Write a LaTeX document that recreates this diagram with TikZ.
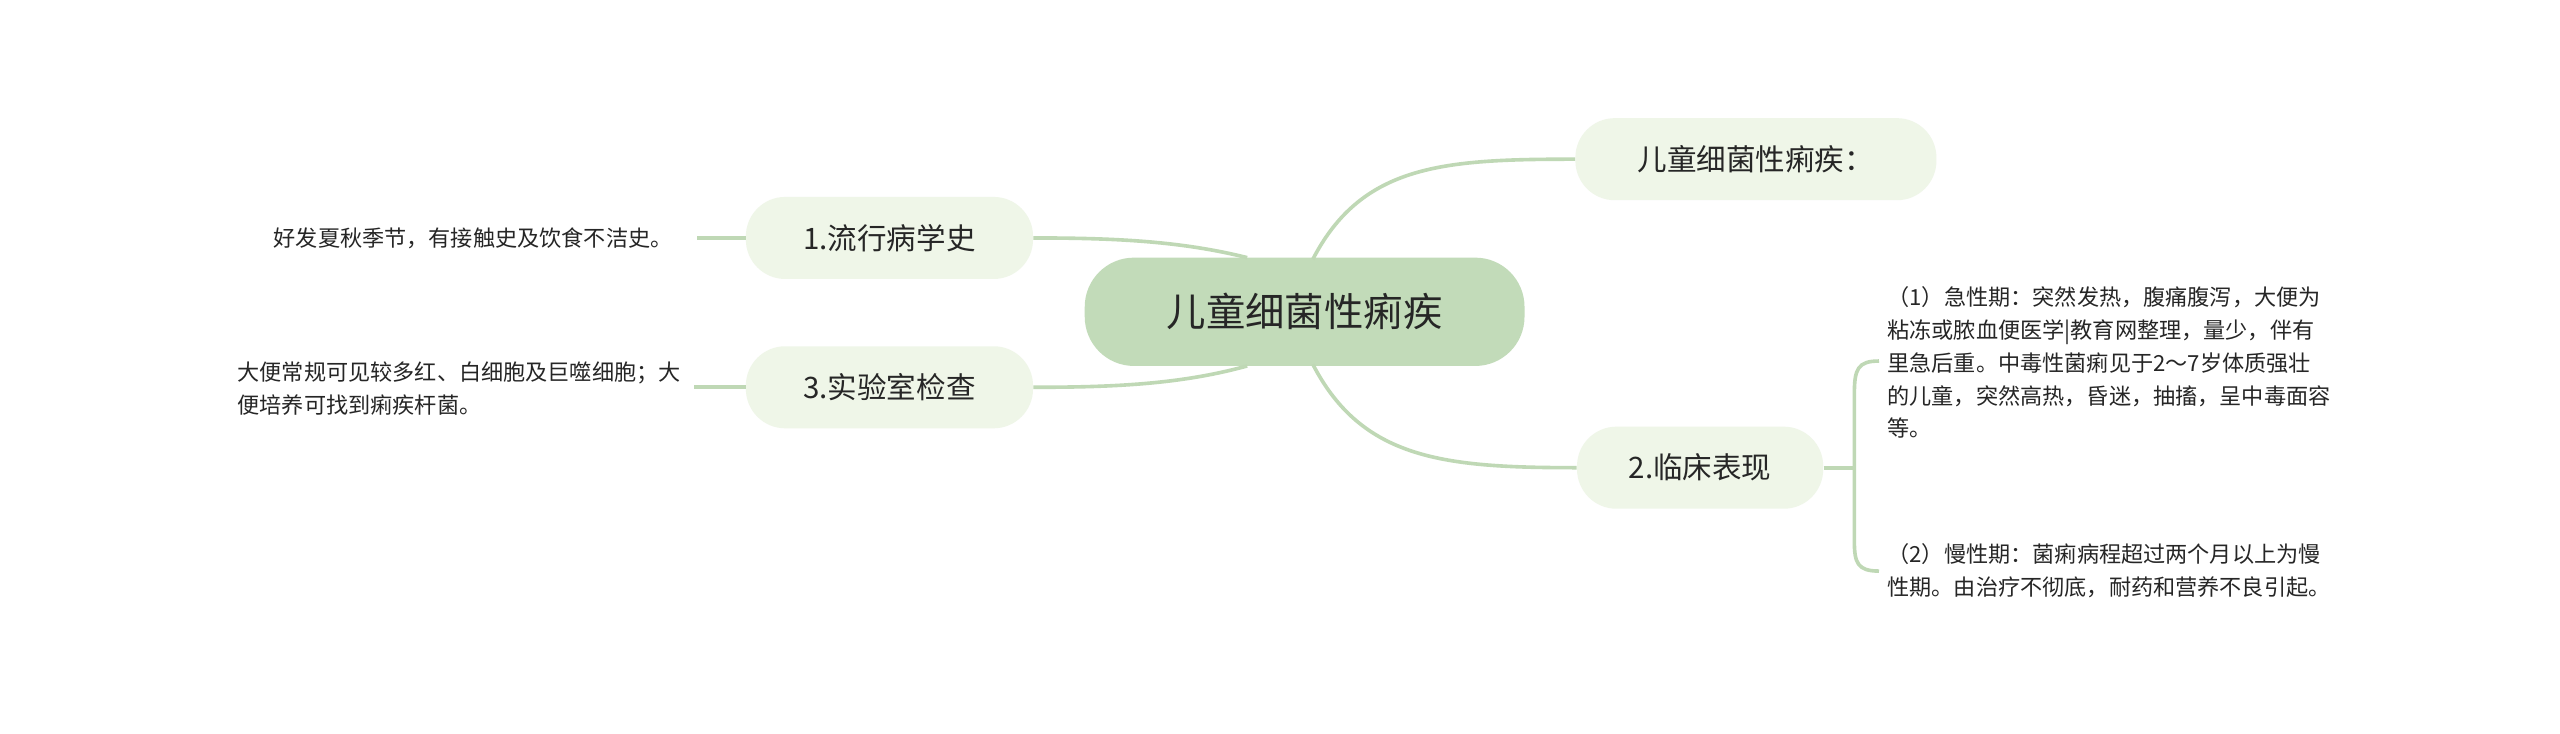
\documentclass[tikz,border=0pt]{standalone}
\usepackage{fontspec}
\setmainfont{Noto Sans CJK SC}
\begin{document}
\begin{tikzpicture}[x=1pt,y=-1pt,
  conn/.style={draw=lineg,line width=2.2pt},
  center/.style={fill=mainfill,rounded corners=30pt,minimum width=268pt,minimum height=66pt,font=\fontsize{24}{28}\selectfont,text=black!85},
  branch/.style={fill=subfill,rounded corners=24pt,minimum height=50pt,font=\fontsize{18}{22}\selectfont,text=black!85},
  leaf/.style={font=\fontsize{13.5}{20}\selectfont,text=black!85,align=left,inner sep=0pt}]
\definecolor{lineg}{HTML}{BFD8B5}
\definecolor{mainfill}{HTML}{C2DBB9}
\definecolor{subfill}{HTML}{EFF6E8}
\useasboundingbox[fill=white] (0,0) rectangle (1560,447);
\node[center] (c) at (795,190) {儿童细菌性痢疾};
\node[branch,minimum width=220pt] (b0) at (1070,97) {儿童细菌性痢疾：};
\node[branch,minimum width=175pt] (b1) at (542,145) {1.流行病学史};
\node[branch,minimum width=175pt] (b3) at (542,236) {3.实验室检查};
\node[branch,minimum width=150pt] (b2) at (1036,285) {2.临床表现};
\draw[conn] (800,158) .. controls (830,100) and (880,97) .. (b0.west);
\draw[conn] (800,222) .. controls (830,280) and (880,285) .. (b2.west);
\draw[conn] (760,157) .. controls (720,147) and (680,145) .. (b1.east);
\draw[conn] (760,223) .. controls (720,234) and (680,236) .. (b3.east);
\node[leaf,anchor=east] (l1) at (410,145) {好发夏秋季节，有接触史及饮食不洁史。};
\node[leaf,anchor=east] (l3) at (415,237) {大便常规可见较多红、白细胞及巨噬细胞；大\\便培养可找到痢疾杆菌。};
\draw[conn] (b1.west) -- (425,145);
\draw[conn] (b3.west) -- (423,236);
\node[leaf,anchor=west] (l2a) at (1150,221) {（1）急性期：突然发热，腹痛腹泻，大便为\\粘冻或脓血便医学|教育网整理，量少，伴有\\里急后重。中毒性菌痢见于2～7岁体质强壮\\的儿童，突然高热，昏迷，抽搐，呈中毒面容\\等。};
\node[leaf,anchor=west] (l2b) at (1150,348) {（2）慢性期：菌痢病程超过两个月以上为慢\\性期。由治疗不彻底，耐药和营养不良引起。};
\coordinate (k) at (1130,285);
\draw[conn] (b2.east) -- (k);
\draw[conn] (1145,220) .. controls (1132,220) and (1130,225) .. (1130,240) -- (1130,330) .. controls (1130,343) and (1132,348) .. (1145,348);
\end{tikzpicture}
\end{document}
